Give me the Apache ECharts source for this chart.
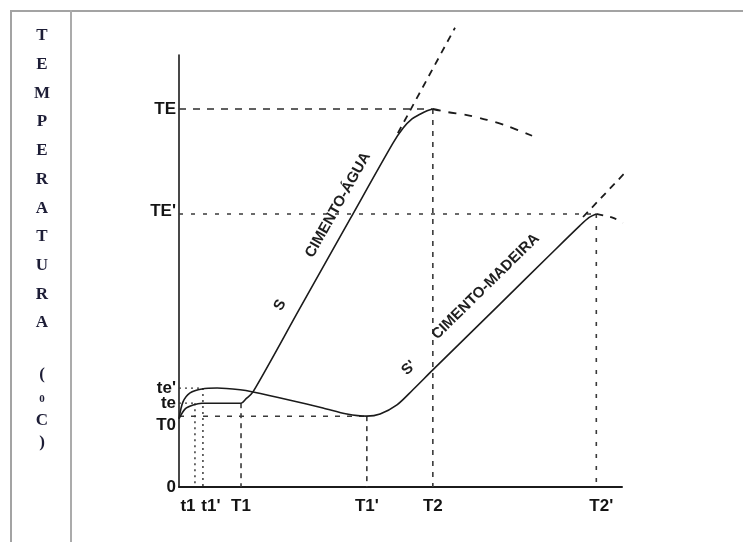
<!DOCTYPE html>
<html>
<head>
<meta charset="utf-8">
<script src="https://cdn.jsdelivr.net/npm/echarts@6/dist/echarts.min.js"></script>
<style>
  html, body { margin: 0; padding: 0; background: #fff; }
  #chart { width: 743px; height: 542px; }
</style>
</head>
<body>
<div id="chart"></div>
<script>
// Tick labels on the time axis and on the temperature axis
const timeTickNames = ['t1', "t1'", 'T1', "T1'", 'T2', "T2'"];
const timeTickValues = [3.6, 5.4, 14.0, 42.4, 57.3, 94.2];
const tempTickNames = ['0', 'T0', 'te', "te'", "TE'", 'TE'];
const tempTickValues = [0, 16.4, 19.4, 22.9, 63.2, 87.5];

// Cement + water: heating curve, falling branch after the peak, and the tangent
const aguaCurve = [[0, 15.8], [1.4, 18.1], [3.2, 19.0], [5.2, 19.4], [14.0, 19.4], [15.1, 20.4],
  [16.7, 22.0], [27.3, 41.4], [38.6, 62.0], [48.3, 79.6], [50.6, 83.1], [52.6, 85.2],
  [54.4, 86.3], [56.0, 87.1], [57.3, 87.5]];
const aguaTail = [[57.3, 87.5], [60.5, 86.8], [65.0, 86.1], [69.5, 85.0], [74.0, 83.6], [79.7, 81.3]];
const aguaTangent = [[49.4, 81.9], [62.3, 106.3]];

// Cement + wood: heating curve, falling branch after the peak, and the tangent
const madeiraCurve = [[0, 15.8], [0.9, 19.7], [2.5, 21.8], [5.2, 22.7], [8.6, 22.9], [13.8, 22.5],
  [16.7, 22.0], [25.1, 20.1], [32.5, 18.3], [37.9, 16.9], [42.4, 16.4], [45.4, 16.9],
  [49.2, 19.0], [52.8, 22.5], [57.3, 27.1], [72.5, 42.4], [83.7, 53.7], [90.5, 60.5],
  [92.6, 62.4], [94.2, 63.2]];
const madeiraTail = [[94.2, 63.2], [98.0, 62.3], [100.2, 61.1]];
const madeiraTangent = [[91.2, 62.5], [103.4, 75.7]];

// Axis title, written one character per line in the side cell
const axisTitleChars = ['T', 'E', 'M', 'P', 'E', 'R', 'A', 'T', 'U', 'R', 'A'];
const unitChars = ['(', '0', 'C', ')'];

const tx = n => timeTickValues[timeTickNames.indexOf(n)];
const ty = n => tempTickValues[tempTickNames.indexOf(n)];

const INK = '#1b1b1b';
const GUIDE = '#3a3a3a';

function guide(points, dash, width) {
  return {
    type: 'line', data: points, symbol: 'none', silent: true, clip: false,
    lineStyle: { color: GUIDE, width: width || 1.4, type: dash },
    z: 1
  };
}
function curve(points, dash, smooth) {
  return {
    type: 'line', data: points, symbol: 'none', silent: true, clip: false,
    smooth: smooth === undefined ? 0.3 : smooth,
    lineStyle: { color: INK, width: dash === 'solid' ? 1.6 : 1.8, type: dash },
    z: 3
  };
}

const xRich = {
  l: { padding: [0, 14, 0, 0] },
  r: { padding: [0, 0, 0, 16] },
  rr: { padding: [0, 0, 0, 10] },
  n: {}
};
const xStyle = { "t1": 'l', "t1'": 'r', "T2'": 'rr' };
const yRich = {
  dn: { padding: [18, 0, 0, 0] },
  up: { padding: [0, 0, 6, 0] },
  n: {}
};
const yStyle = { 'T0': 'dn', "TE'": 'up' };

const chart = echarts.init(document.getElementById('chart'), null, { renderer: 'canvas' });

const option = {
  animation: false,
  backgroundColor: '#ffffff',
  grid: { left: 179, top: 55, right: 121, bottom: 55, containLabel: false },
  xAxis: {
    type: 'value', min: 0, max: 100,
    axisLine: { show: true, onZero: false, lineStyle: { color: INK, width: 2 } },
    axisTick: { show: false },
    splitLine: { show: false },
    axisLabel: {
      customValues: timeTickValues,
      margin: 11,
      color: '#141414',
      fontFamily: 'Liberation Sans, Arial, sans-serif',
      fontWeight: 'bold',
      fontSize: 17,
      rich: xRich,
      formatter: v => {
        const i = timeTickValues.indexOf(v);
        if (i < 0) return '';
        const name = timeTickNames[i];
        return '{' + (xStyle[name] || 'n') + '|' + name + '}';
      }
    }
  },
  yAxis: {
    type: 'value', min: 0, max: 100,
    axisLine: { show: true, onZero: false, lineStyle: { color: INK, width: 1.6 } },
    axisTick: { show: false },
    splitLine: { show: false },
    axisLabel: {
      customValues: tempTickValues,
      margin: 3,
      color: '#141414',
      fontFamily: 'Liberation Sans, Arial, sans-serif',
      fontWeight: 'bold',
      fontSize: 17,
      rich: yRich,
      formatter: v => {
        const i = tempTickValues.indexOf(v);
        if (i < 0) return '';
        const name = tempTickNames[i];
        return '{' + (yStyle[name] || 'n') + '|' + name + '}';
      }
    }
  },
  series: [
    // reference lines from the axes to the characteristic points
    guide([[0, ty('TE')], [tx('T2'), ty('TE')]], [7, 7], 1.6),
    guide([[tx('T2'), ty('TE')], [tx('T2'), 0]], [5, 6], 1.6),
    guide([[0, ty("TE'")], [tx("T2'"), ty("TE'")]], [4, 8], 1.5),
    guide([[tx("T2'"), ty("TE'")], [tx("T2'"), 0]], [4, 8], 1.6),
    guide([[0, ty("te'")], [tx("t1'"), ty("te'")]], [2, 4], 1.3),
    guide([[tx("t1'"), ty("te'")], [tx("t1'"), 0]], [2, 4], 1.5),
    guide([[0, ty('te')], [tx('t1'), ty('te')]], [2, 4], 1.3),
    guide([[tx('t1'), ty('te')], [tx('t1'), 0]], [2, 4], 1.5),
    guide([[0, ty('T0')], [tx("T1'"), ty('T0')]], [5, 7], 1.5),
    guide([[tx('T1'), ty('te')], [tx('T1'), 0]], [5, 5], 1.6),
    guide([[tx("T1'"), ty('T0')], [tx("T1'"), 0]], [5, 5], 1.6),
    // temperature curves
    curve(aguaCurve, 'solid'),
    curve(aguaTail, [8, 8], 0.3),
    curve(aguaTangent, [7, 6], 0),
    curve(madeiraCurve, 'solid'),
    curve(madeiraTail, [7, 7], 0.3),
    curve(madeiraTangent, [7, 6], 0)
  ]
};
chart.setOption(option);

// Text set along the straight part of a curve: a point at fraction f of segment
// [a, b], pushed d pixels to the upper-left side of the line.
function alongLine(text, a, b, f, d, size) {
  const pa = chart.convertToPixel({ gridIndex: 0 }, a);
  const pb = chart.convertToPixel({ gridIndex: 0 }, b);
  const dx = pb[0] - pa[0], dy = pb[1] - pa[1];
  const len = Math.hypot(dx, dy);
  const ux = dx / len, uy = dy / len;
  // unit normal pointing up and to the left of a rising line
  const nx = uy, ny = -ux;
  return {
    type: 'text',
    x: pa[0] + dx * f + nx * d,
    y: pa[1] + dy * f + ny * d,
    rotation: Math.atan2(-dy, dx),
    style: {
      text: text,
      font: 'bold ' + size + 'px "Liberation Sans", Arial, sans-serif',
      fill: '#1e1e1e',
      align: 'center', verticalAlign: 'middle',
      textAlign: 'center', textVerticalAlign: 'middle'
    },
    z: 10
  };
}

const aguaA = aguaCurve[6], aguaB = aguaCurve[9];
const madA = madeiraCurve[14], madB = madeiraCurve[17];

const graphics = [
  // table frame around the figure
  { type: 'line', shape: { x1: 10, y1: 11, x2: 743, y2: 11 }, style: { stroke: '#a3a3a3', lineWidth: 2 } },
  { type: 'line', shape: { x1: 11, y1: 10, x2: 11, y2: 542 }, style: { stroke: '#a3a3a3', lineWidth: 2 } },
  { type: 'line', shape: { x1: 71, y1: 10, x2: 71, y2: 542 }, style: { stroke: '#ababab', lineWidth: 2 } },
  alongLine('CIMENTO-ÁGUA', aguaA, aguaB, 0.717, 17.5, 15),
  alongLine('S', aguaA, aguaB, 0.312, 19, 15),
  alongLine('CIMENTO-MADEIRA', madA, madB, 0.466, 22.5, 15),
  alongLine("S'", madA, madB, -0.076, 18, 15)
];

axisTitleChars.forEach((c, i) => {
  graphics.push({
    type: 'text', x: 42, y: 36 + i * 28.7,
    style: {
      text: c, font: 'bold 17px "Liberation Serif", "Times New Roman", serif', fill: '#1d1d36',
      align: 'center', verticalAlign: 'middle', textAlign: 'center', textVerticalAlign: 'middle'
    }
  });
});
const unitY = [375, 399, 421, 443];
unitChars.forEach((c, i) => {
  graphics.push({
    type: 'text', x: 42, y: unitY[i],
    style: {
      text: c,
      font: (c === '0' ? 'bold 11px' : 'bold 17px') + ' "Liberation Serif", "Times New Roman", serif',
      fill: '#1d1d36',
      align: 'center', verticalAlign: 'middle', textAlign: 'center', textVerticalAlign: 'middle'
    }
  });
});

chart.setOption({ graphic: graphics });
</script>
</body>
</html>
